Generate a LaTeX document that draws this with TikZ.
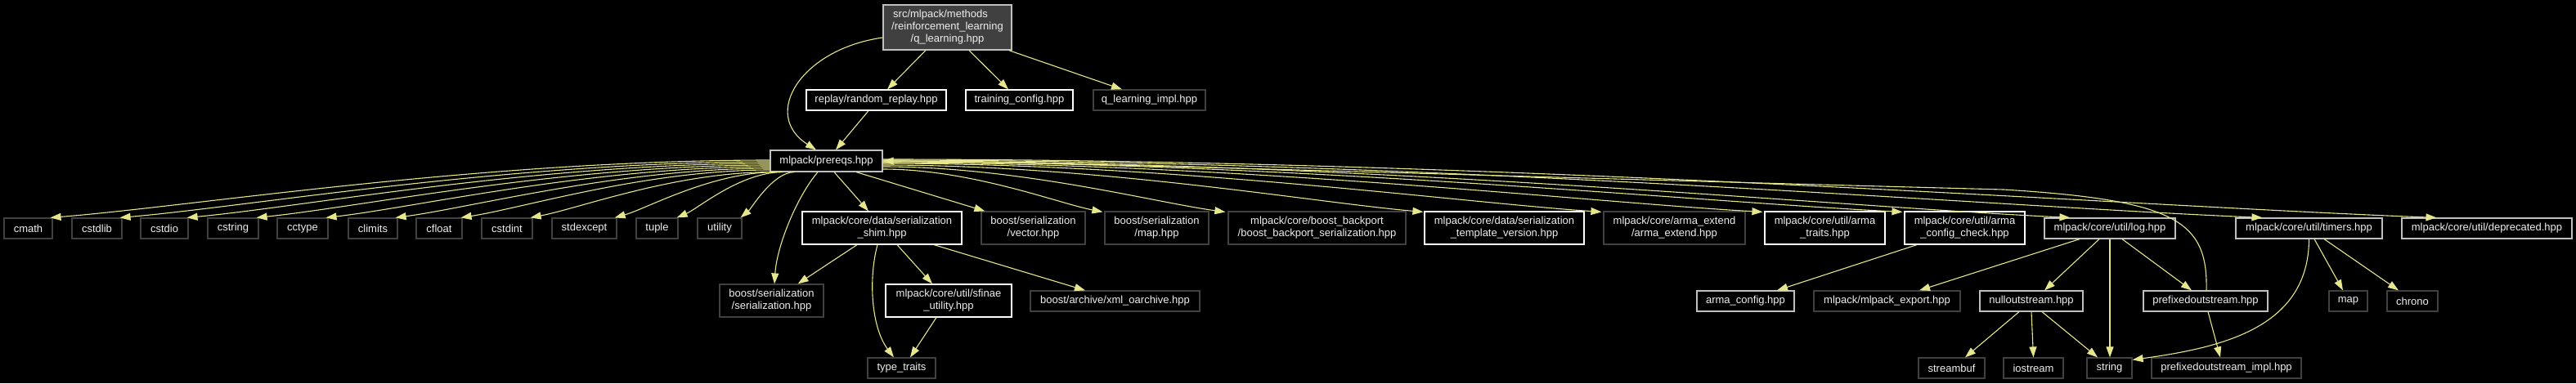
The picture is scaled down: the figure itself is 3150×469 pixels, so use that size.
\documentclass[tikz,border=0pt]{standalone}
\usepackage{fontspec}
\setmainfont{Liberation Sans}
\usetikzlibrary{arrows.meta,calc}
\definecolor{edgec}{RGB}{230,230,140}
\definecolor{lgrey}{RGB}{191,191,191}
\definecolor{dgrey}{RGB}{64,64,64}
\definecolor{topfill}{RGB}{64,64,64}
\definecolor{txt}{RGB}{238,238,238}
\tikzset{
  box/.style={draw, line width=1.2pt, fill=black, text=txt, font=\fontsize{13}{15}\selectfont, align=center, inner sep=0pt, minimum height=25pt},
  wbox/.style={box, draw=white},
  gbox/.style={box, draw=lgrey},
  dbox/.style={box, draw=dgrey},
  dep/.style={draw=edgec, line width=1.1pt, -{Triangle[length=13pt,width=9pt]}},
}
\newcommand\fanedge[2]{\path ($(#1)!0.4!(#2)$) coordinate (cA); \draw[dep] (#1) .. controls (cA |- #1) and ($(#1)!0.8!(#2)$) .. (#2);}
\begin{document}
\begin{tikzpicture}[x=1pt,y=1pt]
\fill[black] (0,0) rectangle (3150,-469);
\useasboundingbox (0,0) rectangle (3150,-469);
% row 1-2
\node[gbox, fill=topfill, minimum width=157pt, minimum height=55pt] (top) at (1158.5,-33.5) {src/mlpack/methods\hspace*{17pt}\\/reinforcement\_learning\\/q\_learning.hpp};
\node[wbox, minimum width=171pt] (replay) at (1071.5,-122.5) {replay/random\_replay.hpp};
\node[wbox, minimum width=131pt] (training) at (1246.5,-122.5) {training\_config.hpp};
\node[dbox, minimum width=137pt] (qimpl) at (1405.5,-122.5) {q\_learning\_impl.hpp};
\node[gbox, minimum width=137pt, minimum height=26pt] (prereqs) at (1010.5,-197) {mlpack/prereqs.hpp};
% row 4
\node[dbox, minimum width=59pt] (cmath) at (34.5,-279.5) {cmath};
\node[dbox, minimum width=61pt] (cstdlib) at (118.5,-279.5) {cstdlib};
\node[dbox, minimum width=58pt] (cstdio) at (201,-279.5) {cstdio};
\node[dbox, minimum width=62pt] (cstring) at (285,-279.5) {cstring};
\node[dbox, minimum width=62pt] (cctype) at (370,-279.5) {cctype};
\node[dbox, minimum width=60pt] (climits) at (456,-279.5) {climits};
\node[dbox, minimum width=56pt] (cfloat) at (537,-279.5) {cfloat};
\node[dbox, minimum width=62pt] (cstdint) at (620,-279.5) {cstdint};
\node[dbox, minimum width=79pt] (stdexcept) at (714.5,-279.5) {stdexcept};
\node[dbox, minimum width=51pt] (tuple) at (803.5,-279.5) {tuple};
\node[dbox, minimum width=54pt] (utility) at (880,-279.5) {utility};
\node[wbox, minimum width=195pt, minimum height=40pt] (shim) at (1078.5,-279) {mlpack/core/data/serialization\\\_shim.hpp};
\node[dbox, minimum width=127pt, minimum height=40pt] (vector) at (1263.5,-279) {boost/serialization\\/vector.hpp};
\node[dbox, minimum width=127pt, minimum height=40pt] (smap) at (1414.5,-279) {boost/serialization\\/map.hpp};
\node[dbox, minimum width=217pt, minimum height=40pt] (backport) at (1610.5,-279) {mlpack/core/boost\_backport\\/boost\_backport\_serialization.hpp};
\node[wbox, minimum width=195pt, minimum height=40pt] (tmplver) at (1839.5,-279) {mlpack/core/data/serialization\\\_template\_version.hpp};
\node[dbox, minimum width=173pt, minimum height=40pt] (armaext) at (2047.5,-279) {mlpack/core/arma\_extend\\/arma\_extend.hpp};
\node[wbox, minimum width=147pt, minimum height=40pt] (armatraits) at (2231.5,-279) {mlpack/core/util/arma\\\_traits.hpp};
\node[wbox, minimum width=147pt, minimum height=40pt] (armacheck) at (2402.5,-279) {mlpack/core/util/arma\\\_config\_check.hpp};
\node[gbox, minimum width=160pt] (log) at (2580,-279.5) {mlpack/core/util/log.hpp};
\node[gbox, minimum width=179pt] (timers) at (2823.5,-279.5) {mlpack/core/util/timers.hpp};
\node[gbox, minimum width=208pt] (deprecated) at (3041,-279.5) {mlpack/core/util/deprecated.hpp};
% row 5
\node[dbox, minimum width=127pt, minimum height=40pt] (serial) at (943.5,-368) {boost/serialization\\/serialization.hpp};
\node[wbox, minimum width=154pt, minimum height=40pt] (sfinae) at (1160,-368) {mlpack/core/util/sfinae\\\_utility.hpp};
\node[dbox, minimum width=207pt] (xmlo) at (1363.5,-368.5) {boost/archive/xml\_oarchive.hpp};
\node[gbox, minimum width=119pt] (armaconfig) at (2134.5,-368.5) {arma\_config.hpp};
\node[dbox, minimum width=179pt] (export) at (2307.5,-368.5) {mlpack/mlpack\_export.hpp};
\node[gbox, minimum width=126pt] (nullout) at (2484,-368.5) {nulloutstream.hpp};
\node[gbox, minimum width=152pt] (prefixed) at (2697,-368.5) {prefixedoutstream.hpp};
\node[dbox, minimum width=47pt] (map) at (2871.5,-368.5) {map};
\node[dbox, minimum width=62pt] (chrono) at (2950,-368.5) {chrono};
% row 6
\node[dbox, minimum width=83pt] (typetraits) at (1102.5,-450.5) {type\_traits};
\node[dbox, minimum width=81pt] (streambuf) at (2386.5,-450.5) {streambuf};
\node[dbox, minimum width=73pt] (iostream) at (2486.5,-450.5) {iostream};
\node[dbox, minimum width=55pt] (string) at (2579.5,-450.5) {string};
\node[dbox, minimum width=183pt] (prefimpl) at (2722.5,-450.5) {prefixedoutstream\_impl.hpp};
% edges from top
\draw[dep] ($(top.west)+(0,-12.5)$) .. controls (980,-60) and (930,-140) .. ($(prereqs.north)+(-12.5,0)$);
\draw[dep] ($(top.south)+(-26.5,0)$) -- ($(replay.north)+(13.5,0)$);
\draw[dep] ($(top.south)+(26.5,0)$) -- ($(training.north)+(-13.5,0)$);
\draw[dep] ($(top.south east)+(-4,0)$) -- ($(qimpl.north)+(-33.5,0)$);
\draw[dep] ($(replay.south)+(-9.5,0)$) -- ($(prereqs.north)+(11.5,0)$);
% left fan
\coordinate (s1) at ($(prereqs.west)+(0,1)$);   \coordinate (e1) at ($(cmath.north east)+(-3,0)$);
\coordinate (s2) at ($(prereqs.west)+(0,-1)$);  \coordinate (e2) at ($(cstdlib.north east)+(-3,0)$);
\coordinate (s3) at ($(prereqs.west)+(0,-3)$);  \coordinate (e3) at ($(cstdio.north east)+(-2,0)$);
\coordinate (s4) at ($(prereqs.west)+(0,-5)$);  \coordinate (e4) at ($(cstring.north east)+(-3,0)$);
\coordinate (s5) at ($(prereqs.west)+(0,-7)$);  \coordinate (e5) at ($(cctype.north east)+(-3,0)$);
\coordinate (s6) at ($(prereqs.west)+(0,-9)$);  \coordinate (e6) at ($(climits.north east)+(-3,0)$);
\coordinate (s7) at ($(prereqs.west)+(0,-11)$); \coordinate (e7) at ($(cfloat.north east)+(-2,0)$);
\coordinate (s8) at ($(prereqs.south west)+(2,0)$);  \coordinate (e8) at ($(cstdint.north east)+(-3,0)$);
\coordinate (s9) at ($(prereqs.south west)+(8,0)$);  \coordinate (e9) at ($(stdexcept.north east)+(-3,0)$);
\coordinate (s10) at ($(prereqs.south west)+(16,0)$); \coordinate (e10) at ($(tuple.north east)+(-2,0)$);
\coordinate (s11) at ($(prereqs.south west)+(30,0)$); \coordinate (e11) at ($(utility.north east)+(-2,0)$);
\fanedge{s1}{e1} \fanedge{s2}{e2} \fanedge{s3}{e3} \fanedge{s4}{e4}
\fanedge{s5}{e5} \fanedge{s6}{e6} \fanedge{s7}{e7} \fanedge{s8}{e8}
\fanedge{s9}{e9} \fanedge{s10}{e10} \fanedge{s11}{e11}
% down from prereqs
\draw[dep] ($(prereqs.south)+(-10.5,0)$) .. controls (975,-240) and (950,-300) .. ($(serial.north)+(3.5,0)$);
\draw[dep] ($(prereqs.south)+(9.5,0)$) -- ($(shim.north)+(-16.5,0)$);
\draw[dep] ($(prereqs.south)+(36.5,0)$) -- ($(vector.north west)+(5,0)$);
% right fan
\coordinate (r1) at ($(prereqs.east)+(0,-10)$); \coordinate (f1) at ($(smap.north west)+(-2,-1)$);
\coordinate (r2) at ($(prereqs.east)+(0,-7)$);  \coordinate (f2) at ($(backport.north west)+(-3,-1)$);
\coordinate (r3) at ($(prereqs.east)+(0,-5)$);  \coordinate (f3) at ($(tmplver.north west)+(-1,-1)$);
\coordinate (r4) at ($(prereqs.east)+(0,-3)$);  \coordinate (f4) at ($(armaext.north west)+(-2,-1)$);
\coordinate (r5) at ($(prereqs.east)+(0,-2)$);  \coordinate (f5) at ($(armatraits.north west)+(-2,-1)$);
\coordinate (r6) at ($(prereqs.east)+(0,-1)$);  \coordinate (f6) at ($(armacheck.north west)+(-2,-1)$);
\coordinate (r7) at ($(prereqs.east)+(0,0)$);   \coordinate (f7) at ($(log.north west)+(32,0)$);
\coordinate (r8) at ($(prereqs.east)+(0,1)$);   \coordinate (f8) at ($(timers.north west)+(33,0)$);
\coordinate (r9) at ($(prereqs.east)+(0,2)$);   \coordinate (f9) at ($(deprecated.north west)+(43,0)$);
\fanedge{r1}{f1} \fanedge{r2}{f2} \fanedge{r3}{f3} \fanedge{r4}{f4}
\fanedge{r5}{f5} \fanedge{r6}{f6} \fanedge{r7}{f7} \fanedge{r8}{f8} \fanedge{r9}{f9}
% back edge
\draw[dep] ($(prefixed.north)+(1,0)$) .. controls (2700,-270) and (2660,-245) .. (2450,-232) .. controls (1800,-215) and (1300,-198) .. ($(prereqs.east)+(0,0)$);
% shim
\draw[dep] ($(shim.south)+(-30.5,0)$) -- ($(serial.north east)+(-32,0)$);
\draw[dep] ($(shim.south)+(-5.5,0)$) .. controls (1062,-340) and (1065,-400) .. ($(typetraits.north)+(-9.5,0)$);
\draw[dep] ($(shim.south)+(18.5,0)$) -- ($(sfinae.north)+(-20,0)$);
\draw[dep] ($(shim.south)+(63.5,0)$) -- ($(xmlo.north)+(-36.5,0)$);
\draw[dep] ($(sfinae.south)+(-15,0)$) -- ($(typetraits.north)+(10.5,0)$);
% arma
\draw[dep] ($(armacheck.south)+(-58.5,0)$) -- ($(armaconfig.north)+(38.5,0)$);
% log
\draw[dep] ($(log.south)+(-37,0)$) -- ($(export.north)+(39.5,0)$);
\draw[dep] ($(log.south)+(-13,0)$) -- ($(nullout.north)+(16,0)$);
\draw[dep] (log.south) -- (log.south |- string.north);
\draw[dep] ($(log.south)+(15,0)$) -- ($(prefixed.north)+(-17,0)$);
\draw[dep] ($(nullout.south)+(-15,0)$) -- ($(streambuf.north)+(16.5,0)$);
\draw[dep] (nullout.south) -- (iostream.north);
\draw[dep] ($(nullout.south)+(13,0)$) -- ($(string.north)+(-14.5,0)$);
\draw[dep] ($(prefixed.south)+(3,0)$) -- ($(prefimpl.north)+(-7.5,0)$);
% timers
\draw[dep] (timers.south) .. controls (2823,-400) and (2720,-425) .. ($(string.north east)+(0,-3)$);
\draw[dep] ($(timers.south)+(6.5,0)$) -- ($(map.north)+(-6.5,0)$);
\draw[dep] ($(timers.south)+(18.5,0)$) -- ($(chrono.north)+(-17,0)$);
\end{tikzpicture}
\end{document}
